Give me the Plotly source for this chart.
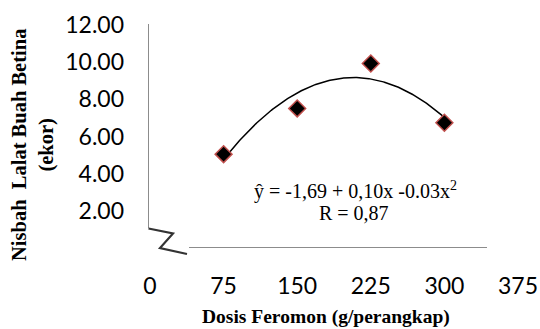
import numpy as np
import plotly.graph_objects as go

# ---- data ----
doses = [75, 150, 225, 300]
ratios = [5.05, 7.51, 9.93, 6.74]
x_ticks = [0, 75, 150, 225, 300, 375]
y_ticks = [2, 4, 6, 8, 10, 12]
y_tick_labels = ["2.00", "4.00", "6.00", "8.00", "10.00", "12.00"]
x_title = "Dosis Feromon (g/perangkap)"
y_title_lines = ["Nisbah\u00a0 Lalat Buah Betina", "(ekor)"]
eq_text = "ŷ = -1,69 + 0,10x -0.03x<sup>2</sup>"
r_text = "R = 0,87"

# quadratic trendline fitted through the points
coef = np.polyfit(doses, ratios, 2)
xs = np.linspace(min(doses), max(doses), 200)
ys = np.polyval(coef, xs)

W, H = 540, 329
L, R, T, B = 150, 22, 25, 81
PW, PH = W - L - R, H - T - B


def px(x):
    return (x - L) / PW


def py(y):
    return (H - B - y) / PH


fig = go.Figure()
fig.add_trace(go.Scatter(x=xs, y=ys, mode="lines",
                         line=dict(color="black", width=1.5),
                         hoverinfo="skip", showlegend=False))
fig.add_trace(go.Scatter(x=doses, y=ratios, mode="markers",
                         marker=dict(symbol="diamond", size=13, color="black",
                                     line=dict(color="#C0504D", width=1.5)),
                         showlegend=False))

axis_col = "#8c8c8c"
shapes = [
    dict(type="line", xref="paper", yref="paper",
         x0=px(148.5), x1=px(148.5), y0=py(228), y1=py(24),
         line=dict(color=axis_col, width=1)),
    dict(type="line", xref="paper", yref="paper",
         x0=px(189), x1=px(487), y0=py(247.5), y1=py(247.5),
         line=dict(color=axis_col, width=1)),
    dict(type="path", xref="paper", yref="paper",
         path=f"M {px(148.5)},{py(228.5)} L {px(173)},{py(233.5)} "
              f"L {px(160)},{py(248)} L {px(187)},{py(254)}",
         line=dict(color="#333333", width=2.2)),
]

serif = "Liberation Serif"
y_title = "<br>".join(f"<b>{s}</b>" for s in y_title_lines)
annotations = [
    dict(text=y_title, xref="paper", yref="paper", x=px(33), y=py(145),
         xanchor="center", yanchor="middle", textangle=-90, showarrow=False,
         font=dict(family=serif, size=20.5, color="black"), align="center"),
    dict(text=f"<b>{x_title}</b>", xref="paper", yref="paper", x=px(326), y=py(317),
         xanchor="center", yanchor="middle", showarrow=False,
         font=dict(family=serif, size=19.5, color="black")),
    dict(text=eq_text, xref="paper", yref="paper", x=px(355), y=py(191),
         xanchor="center", yanchor="middle", showarrow=False,
         font=dict(family=serif, size=20, color="black")),
    dict(text=r_text, xref="paper", yref="paper", x=px(354), y=py(213),
         xanchor="center", yanchor="middle", showarrow=False,
         font=dict(family=serif, size=20, color="black")),
]

fig.update_layout(
    width=W, height=H,
    margin=dict(l=L, r=R, t=T, b=B, pad=0),
    paper_bgcolor="white", plot_bgcolor="white",
    shapes=shapes, annotations=annotations,
    xaxis=dict(range=[0, 375], tickvals=x_ticks, showgrid=False, zeroline=False,
               showline=False, ticks="", ticklabelstandoff=22, automargin=False,
               tickfont=dict(family="Lato", size=23, color="black")),
    yaxis=dict(range=[0, 12], tickvals=y_ticks, ticktext=y_tick_labels,
               showgrid=False, zeroline=False, showline=False, ticks="",
               ticklabelstandoff=25, automargin=False,
               tickfont=dict(family="Lato", size=23, color="black")),
)

fig.write_html("out.html")
